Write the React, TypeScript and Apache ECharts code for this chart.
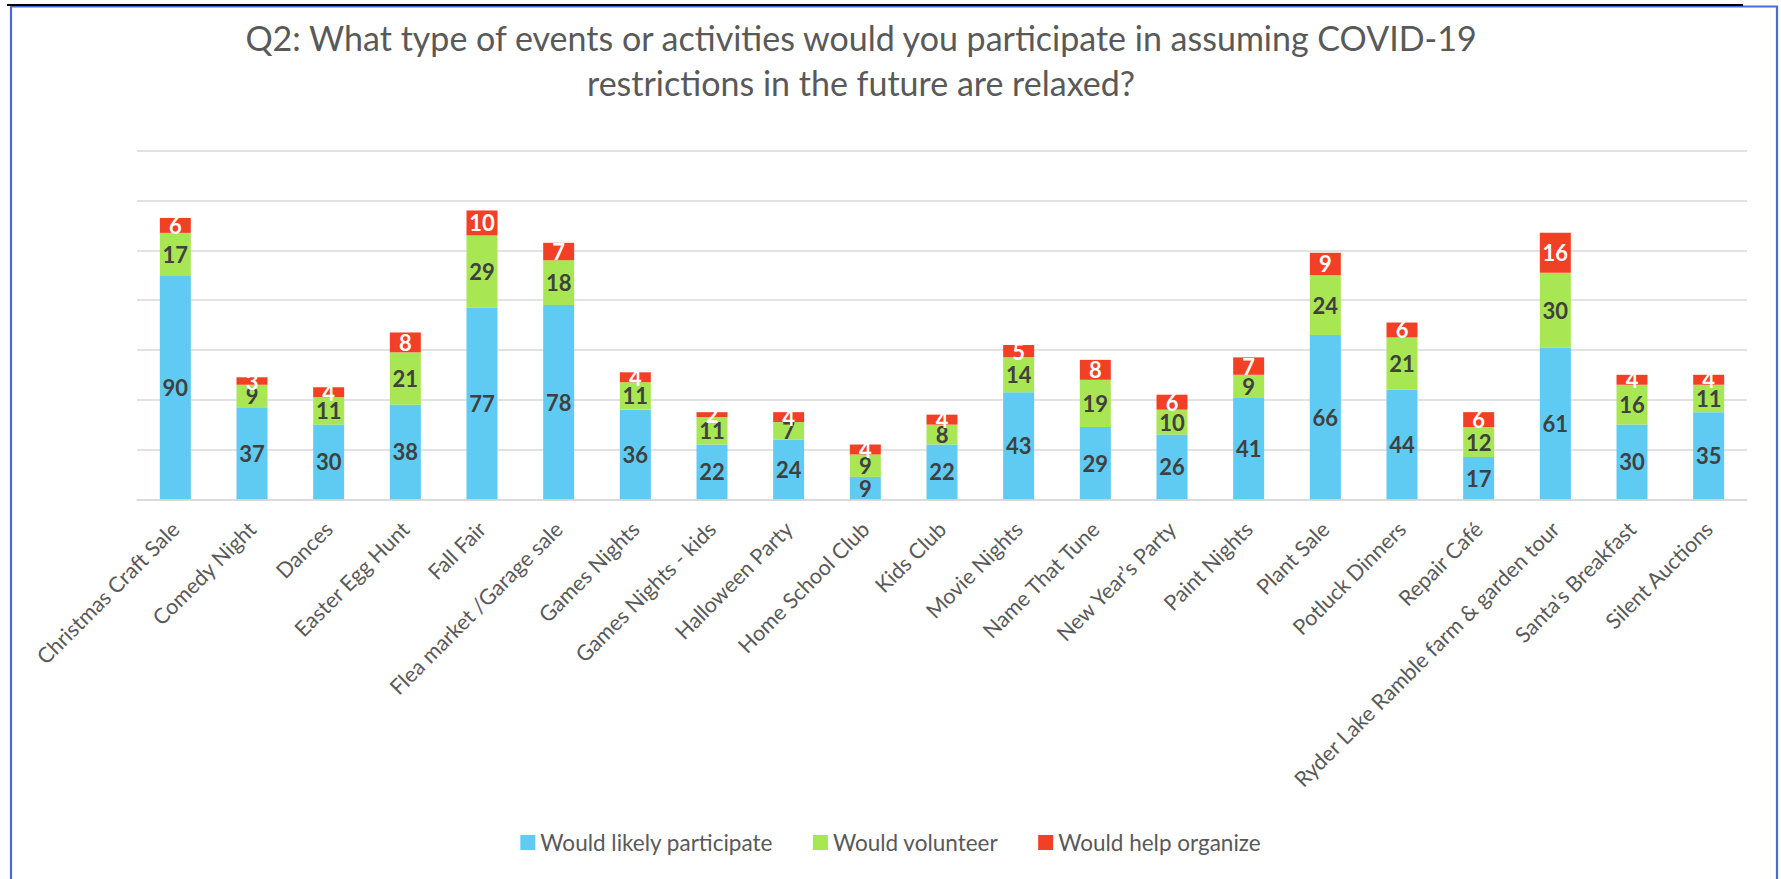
import React, { useEffect, useRef } from "react";
import * as echarts from "echarts";

const categories = [
  "Christmas Craft Sale",
  "Comedy Night",
  "Dances",
  "Easter Egg Hunt",
  "Fall Fair",
  "Flea market /Garage sale",
  "Games Nights",
  "Games Nights - kids",
  "Halloween Party",
  "Home School Club",
  "Kids Club",
  "Movie Nights",
  "Name That Tune",
  "New Year\u2019s Party",
  "Paint Nights",
  "Plant Sale",
  "Potluck Dinners",
  "Repair Café",
  "Ryder Lake Ramble farm & garden tour",
  "Santa's Breakfast",
  "Silent Auctions",
];

const participate = [90, 37, 30, 38, 77, 78, 36, 22, 24, 9, 22, 43, 29, 26, 41, 66, 44, 17, 61, 30, 35];
const volunteer = [17, 9, 11, 21, 29, 18, 11, 11, 7, 9, 8, 14, 19, 10, 9, 24, 21, 12, 30, 16, 11];
const organize = [6, 3, 4, 8, 10, 7, 4, 2, 4, 4, 4, 5, 8, 6, 7, 9, 6, 6, 16, 4, 4];

const seriesNames = ["Would likely participate", "Would volunteer", "Would help organize"];
const titleLines = [
  "Q2: What type of events or activities would you participate in assuming COVID-19",
  "restrictions in the future are relaxed?",
];

const FONT = "Lato, 'Open Sans', sans-serif";

export default function App() {
  const ref = useRef<HTMLDivElement>(null);

  useEffect(() => {
    if (!ref.current) return;
    const chart = echarts.init(ref.current, null, { renderer: "svg" });
    const colors = ["#5FCBF3", "#A8E653", "#F24026"];
    const labelColors = ["#404040", "#404040", "#FFFFFF"];
    const dataSets = [participate, volunteer, organize];

    chart.setOption({
      animation: false,
      backgroundColor: "#ffffff",
      textStyle: { fontFamily: FONT },
      graphic: [
        {
          type: "rect",
          shape: { x: 11, y: 6.5, width: 1766, height: 900 },
          style: { fill: "none", stroke: "#5068D4", lineWidth: 2.2 },
          silent: true,
        },
        {
          type: "line",
          shape: { x1: 7, y1: 5, x2: 1743, y2: 5 },
          style: { stroke: "#000000", lineWidth: 2 },
          silent: true,
        },
        {
          type: "text",
          x: 861,
          y: 37,
          style: {
            text: titleLines[0],
            fill: "#595959",
            font: `34px ${FONT}`,
            textAlign: "center",
            textVerticalAlign: "middle",
          },
        },
        {
          type: "text",
          x: 861,
          y: 82,
          style: {
            text: titleLines[1],
            fill: "#595959",
            font: `34px ${FONT}`,
            textAlign: "center",
            textVerticalAlign: "middle",
          },
        },
      ],
      legend: {
        data: seriesNames,
        top: 826,
        left: "center",
        icon: "rect",
        itemWidth: 15,
        itemHeight: 15,
        itemGap: 40,
        textStyle: { fontSize: 22.5, color: "#595959", fontFamily: FONT },
      },
      grid: { left: 137, right: 34, top: 150.7, bottom: 379.7, containLabel: false },
      xAxis: {
        type: "category",
        data: categories,
        axisTick: { show: false },
        axisLine: { lineStyle: { color: "#D9D9D9", width: 1.5 } },
        axisLabel: {
          interval: 0,
          rotate: 45,
          margin: 26,
          fontSize: 21.5,
          color: "#595959",
          fontFamily: FONT,
        },
      },
      yAxis: {
        type: "value",
        min: 0,
        max: 140,
        interval: 20,
        axisLabel: { show: false },
        axisLine: { show: false },
        axisTick: { show: false },
        splitLine: { lineStyle: { color: "#D9D9D9", width: 1.5 } },
      },
      series: seriesNames.map((name, i) => ({
        name,
        type: "bar",
        stack: "total",
        barWidth: 31,
        data: dataSets[i],
        itemStyle: { color: colors[i] },
        label: {
          show: true,
          position: "inside",
          color: labelColors[i],
          fontSize: 22,
          fontWeight: "bold",
          fontFamily: FONT,
        },
      })),
    });

    return () => chart.dispose();
  }, []);

  return (
    <div
      ref={ref}
      style={{ position: "fixed", left: 0, top: 0, width: 1781, height: 879 }}
    />
  );
}
